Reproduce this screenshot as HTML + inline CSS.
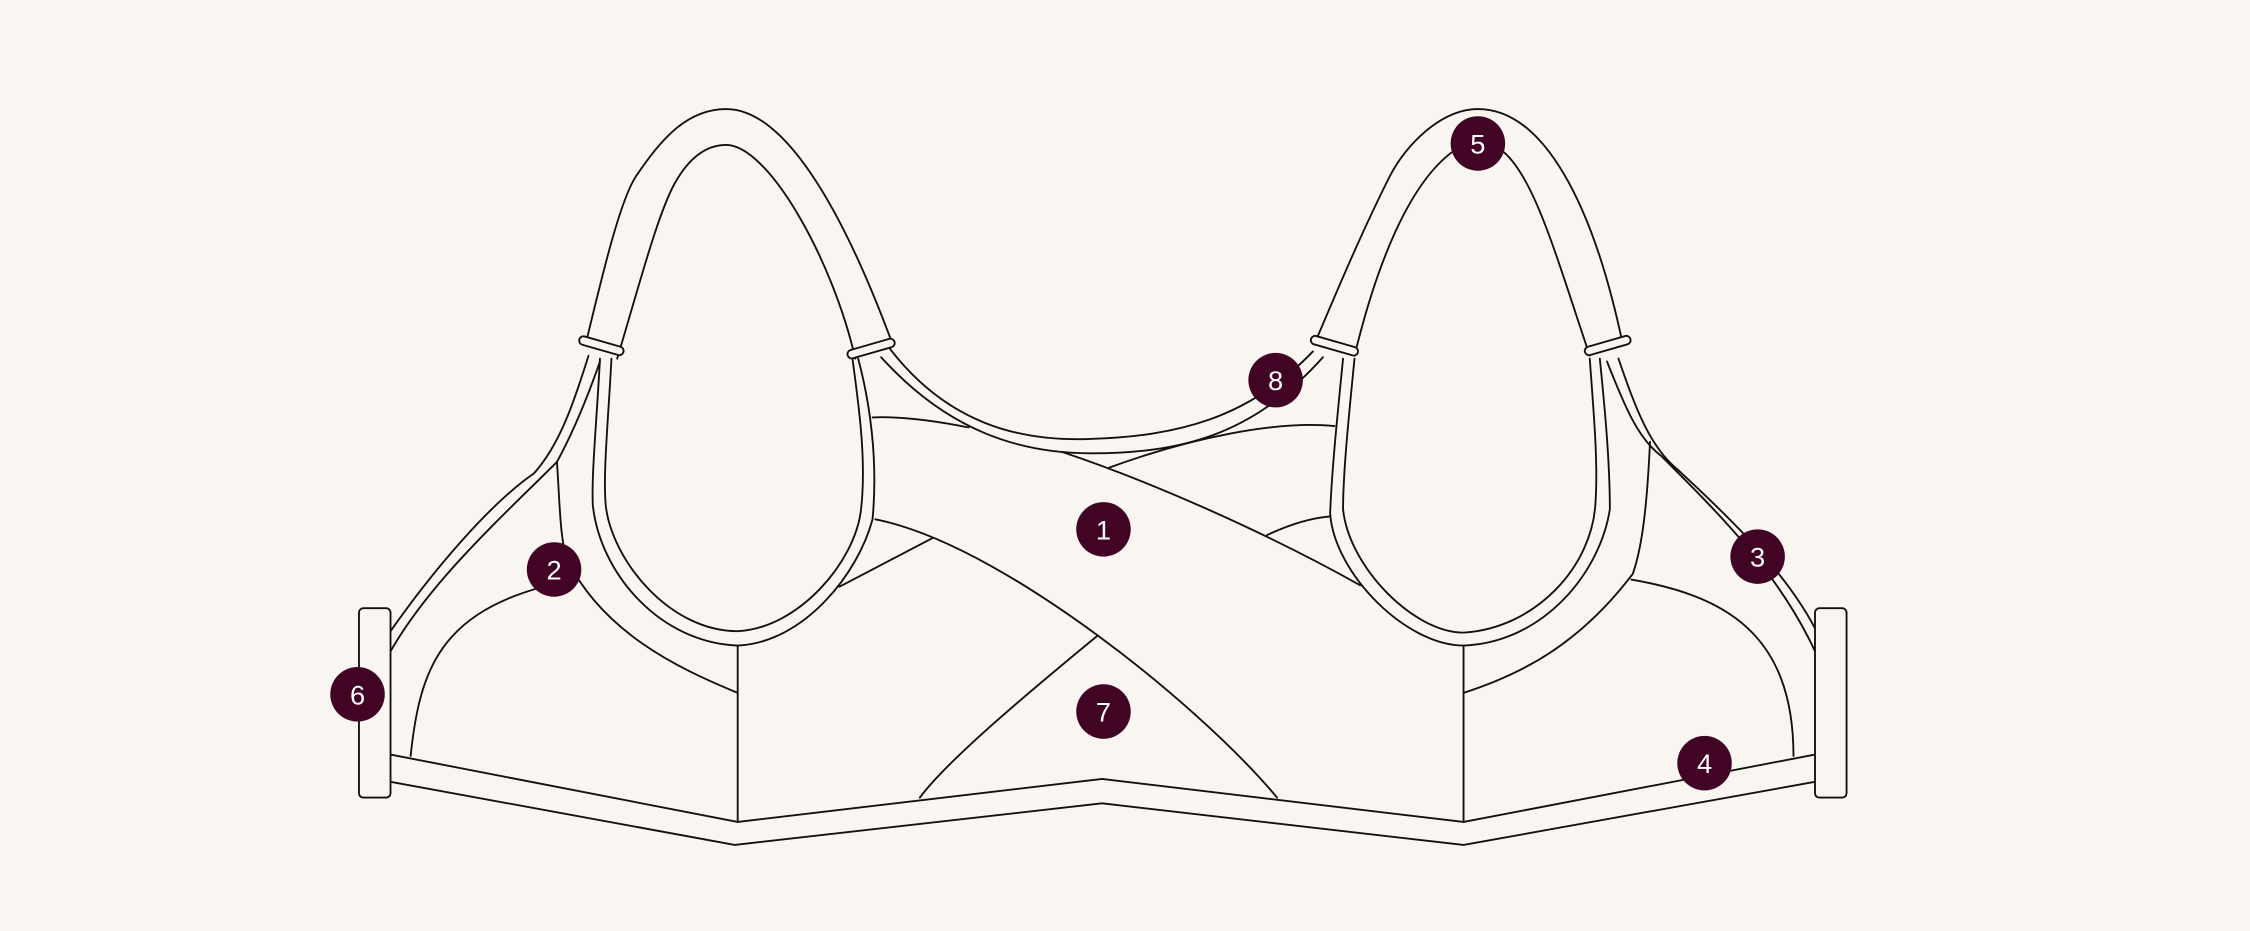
<!DOCTYPE html>
<html><head><meta charset="utf-8"><style>
html,body{margin:0;padding:0;background:#f9f5f1;}
svg{display:block}
</style></head><body>
<svg width="2250" height="931" viewBox="0 0 1568 649" xmlns="http://www.w3.org/2000/svg">
<rect width="1568" height="649" fill="#f9f5f1"/>
<g fill="none" stroke="#111" stroke-width="1.3" stroke-linejoin="round" stroke-linecap="round">
<path d="M408,240 C420,190 432,140 443,123 C460,98 478,76 506,76 C545,76 585,140 622,240"/>
<path d="M430,250 C445,200 458,150 470,128 C480,110 492,101 506,101 C535,101 580,180 596,250"/>
<path d="M410,248 C400,280 390,310 372,330 C340,352 300,400 272,440"/>
<path d="M418,252 C410,275 400,300 388,322 C350,360 300,405 272,454"/>
<path d="M418,250 C416,290 412,330 413,352 C418,400 460,448 514,450 C560,448 598,400 608,362 C612,320 606,280 598,250"/>
<path d="M426,250 C424,290 420,330 422,352 C426,390 466,440 514,440 C556,438 596,392 600,355 C604,320 598,280 594,250"/>
<rect x="403" y="238" width="32" height="6" rx="3" transform="rotate(16 419 241)" fill="#f9f5f1"/>
<rect x="590" y="240" width="34" height="6" rx="3" transform="rotate(-16 607 243)" fill="#f9f5f1"/>
<path d="M916,240 C935,195 950,160 968,124 C980,100 1005,76 1030,76 C1075,76 1110,140 1131,240"/>
<path d="M944,248 C958,190 980,130 1012,106 M1048,106 C1070,125 1085,180 1108,248"/>
<path d="M1128,250 C1140,285 1150,312 1170,328 C1210,365 1245,400 1265,438"/>
<path d="M1120,252 C1133,285 1142,306 1158,318 C1200,360 1240,400 1265,454"/>
<path d="M936,250 C932,290 928,330 927,358 C930,400 980,450 1020,450 C1075,448 1115,400 1122,355 C1122,320 1118,280 1115,250"/>
<path d="M944,250 C940,290 936,330 936,355 C940,395 985,441 1020,441 C1070,438 1110,395 1112,350 C1114,320 1110,280 1108,250"/>
<rect x="913" y="238" width="34" height="6" rx="3" transform="rotate(16 930 241)" fill="#f9f5f1"/>
<rect x="1104" y="238" width="33" height="6" rx="3" transform="rotate(-16 1120 241)" fill="#f9f5f1"/>
<path d="M620,243 C660,295 710,308 760,306 C820,304 870,292 915,245"/>
<path d="M614,249 C660,300 710,316 760,316 C820,316 872,305 922,249"/>
<path d="M608,291 C630,290 655,294 675,298"/>
<path d="M740,315 C800,335 880,370 948,408"/>
<path d="M773,326 C830,305 890,293 930,297"/>
<path d="M610,362 C660,372 720,410 765,443 C810,476 860,520 890,556"/>
<path d="M585,409 L650,375"/>
<path d="M765,443 C720,480 660,530 641,556"/>
<path d="M883,373 C900,365 915,361 927,360"/>
<path d="M514,450 L514,573"/>
<path d="M1020,450 L1020,573"/>
<path d="M388,322 C390,350 390,375 395,390 C420,440 470,465 514,483"/>
<path d="M286,527 C292,470 305,430 375,410"/>
<path d="M1150,308 C1148,350 1145,380 1138,400 C1100,450 1060,470 1020,483"/>
<path d="M1137,404 C1200,415 1250,440 1250,527"/>
<path d="M272,526 L514,573 L768,543 L1020,573 L1265,526"/>
<path d="M272,545 L512,589 L768,560 L1020,589 L1265,545"/>
<rect x="250" y="424" width="22" height="132" rx="3" fill="#f9f5f1"/>
<rect x="1265" y="424" width="22" height="132" rx="3" fill="#f9f5f1"/>
</g>
<g fill="#420424">
<circle cx="769" cy="369" r="19"/><circle cx="386" cy="397" r="19"/>
<circle cx="1225" cy="388" r="19"/><circle cx="1188" cy="532" r="19"/>
<circle cx="1030" cy="100" r="19"/><circle cx="249" cy="484" r="19"/>
<circle cx="769" cy="496" r="19"/><circle cx="889" cy="265" r="19"/>
</g>
<g fill="#fff" font-family="Liberation Sans, sans-serif" font-size="19" text-anchor="middle" font-weight="300">
<text x="769" y="376">1</text><text x="386" y="404">2</text>
<text x="1225" y="395">3</text><text x="1188" y="539">4</text>
<text x="1030" y="107">5</text><text x="249" y="491">6</text>
<text x="769" y="503">7</text><text x="889" y="272">8</text>
</g>
</svg>
</body></html>
